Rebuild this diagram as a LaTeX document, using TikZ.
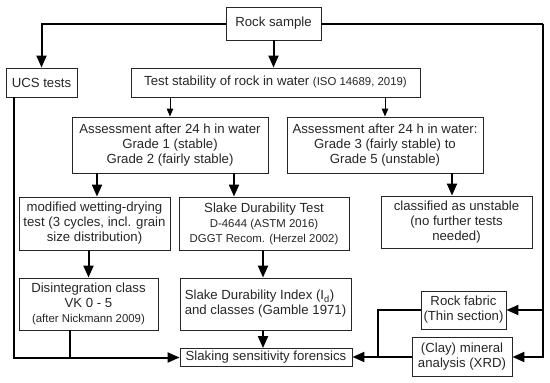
\documentclass[tikz,border=0pt]{standalone}
\usepackage{fontspec}
\setmainfont{Liberation Sans}
\usetikzlibrary{arrows.meta,calc}
\newcommand{\smtxt}{\fontsize{11.4}{13.5}\selectfont}
\begin{document}
\begin{tikzpicture}[x=1pt,y=-1pt,
  box/.style={draw=black!85,line width=0.9pt,rectangle,inner sep=0pt,align=center,
    font=\fontsize{13.2}{15}\selectfont,text=black!85},
  thk/.style={draw=black,line width=2pt,-{Triangle[length=12pt,width=10pt]}},
  thkline/.style={draw=black,line width=2pt},
  thn/.style={draw=black,line width=1pt,-{Triangle[length=8pt,width=6.5pt]}}]
\useasboundingbox (0,0) rectangle (550,383);
\node[box,minimum width=95pt,minimum height=33pt] (rock) at (273.5,23.5) {Rock sample};
\node[box,minimum width=71pt,minimum height=29pt] (ucs) at (41.5,82.5) {UCS tests};
\node[box,minimum width=289pt,minimum height=29pt] (test) at (275.5,82.5) {Test stability of rock in water {\smtxt (ISO 14689, 2019)}};
\node[box,minimum width=196pt,minimum height=56pt] (ass1) at (170,145) {Assessment after 24 h in water\\Grade 1 (stable)\\Grade 2 (fairly stable)};
\node[box,minimum width=196pt,minimum height=56pt] (ass2) at (385,145) {Assessment after 24 h in water:\\Grade 3 (fairly stable) to\\Grade 5 (unstable)};
\node[box,minimum width=151pt,minimum height=53pt] (wet) at (94.5,223.5) {modified wetting-drying\\test (3 cycles, incl. grain\\size distribution)};
\node[box,minimum width=170pt,minimum height=53pt] (sdt) at (264,223.5) {Slake Durability Test\\{\smtxt D-4644 (ASTM 2016)}\\{\smtxt DGGT Recom. (Herzel 2002)}};
\node[box,minimum width=151pt,minimum height=52pt] (uns) at (456.5,222) {classified as unstable\\(no further tests\\needed)};
\node[box,minimum width=139pt,minimum height=52pt] (dis) at (88.5,304) {Disintegration class\\VK 0 - 5\\{\smtxt (after Nickmann 2009)}};
\node[box,minimum width=171pt,minimum height=52pt,align=left] (sdi) at (265.5,304) {Slake Durability Index (I\textsubscript{d})\\and classes (Gamble 1971)};
\node[box,minimum width=172pt,minimum height=18pt] (slk) at (266,357.5) {Slaking sensitivity forensics};
\node[box,minimum width=85pt,minimum height=38pt] (fab) at (463.5,310) {Rock fabric\\(Thin section)};
\node[box,minimum width=100pt,minimum height=39pt] (clay) at (462,357) {(Clay) mineral\\analysis (XRD)};
% connectors
\coordinate (rr) at (543,23.5);
\coordinate (jn) at (378,357);
\draw[thk] (rock.west) -| (ucs.north);
\draw[thk] (rock.south) -- (rock.south |- test.north);
\draw[thkline] (rock.east) -- (rr);
\draw[thk] (rr) |- (clay.east);
\draw[thk] (rr |- fab.east) -- (fab.east);
\draw[thn] (ass1.north |- test.south) -- (ass1.north);
\draw[thn] (ass2.north |- test.south) -- (ass2.north);
\draw[thk] ([xshift=-73pt]ass1.south) -- ([xshift=-73pt]ass1.south |- wet.north);
\draw[thk] ([xshift=64pt]ass1.south) -- ([xshift=64pt]ass1.south |- sdt.north);
\draw[thk] ([xshift=67pt]ass2.south) -- ([xshift=67pt]ass2.south |- uns.north);
\draw[thk] (dis.north |- wet.south) -- (dis.north);
\draw[thk] ([xshift=-1pt]sdt.south) -- ([xshift=-1pt]sdt.south |- sdi.north);
\draw[thk] ([xshift=-2.5pt]sdi.south) -- ([xshift=-2.5pt]sdi.south |- slk.north);
\draw[thk] ([xshift=8pt]ucs.south west) |- (slk.west);
\draw[thkline] ([xshift=-18.5pt]dis.south) -- ([xshift=-18.5pt]dis.south |- slk.west);
\draw[thk] (clay.west) -- (clay.west -| slk.east);
\draw[thkline] (fab.west) -| (jn);
\end{tikzpicture}
\end{document}
